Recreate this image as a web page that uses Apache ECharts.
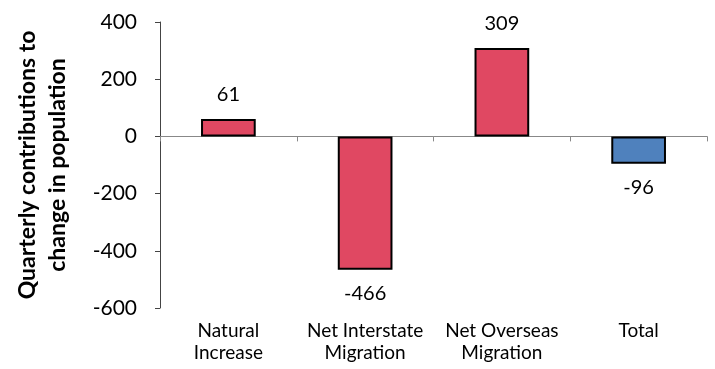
<!DOCTYPE html>
<html><head><meta charset="utf-8">
<script src="https://cdn.jsdelivr.net/npm/echarts@6/dist/echarts.min.js"></script>
<style>html,body{margin:0;padding:0;background:#fff}#c{width:715px;height:369px}</style>
</head><body><div id="c"></div>
<script>
const categories = ['Natural\nIncrease', 'Net Interstate\nMigration', 'Net Overseas\nMigration', 'Total'];
const values = [61, -466, 309, -96];
const barColors = ['#E04862', '#E04862', '#E04862', '#4F81BD'];
const yTitle = 'Quarterly contributions to\nchange in population';

const chart = echarts.init(document.getElementById('c'));
const font = 'Lato, "Open Sans", sans-serif';
chart.setOption({
  animation: false,
  grid: {left: 160, right: 8, top: 22, bottom: 61},
  xAxis: [
    {type: 'category', data: categories, position: 'bottom', axisLine: {show: false, onZero: false}, axisTick: {show: false},
     axisLabel: {fontFamily: font, fontSize: 19, color: '#000', margin: 12, lineHeight: 22, interval: 0}},
    {type: 'category', data: categories, position: 'bottom', axisLine: {show: true, onZero: true, lineStyle: {color: '#888', width: 1}},
     axisTick: {show: true, length: 5, lineStyle: {color: '#888'}}, axisLabel: {show: false}}
  ],
  yAxis: {type: 'value', min: -600, max: 400, interval: 200,
    axisLine: {show: true, lineStyle: {color: '#444'}}, axisTick: {show: true, length: 5, lineStyle: {color: '#444'}},
    splitLine: {show: false},
    axisLabel: {fontFamily: font, fontSize: 21, color: '#000', margin: 23},
    name: yTitle, nameLocation: 'middle', nameRotate: 90, nameGap: 87,
    nameTextStyle: {fontFamily: font, fontSize: 23, fontWeight: 'bold', color: '#000', lineHeight: 30}
  },
  series: [{
    type: 'bar', xAxisIndex: 0, barWidth: '40%',
    data: values.map((v, i) => ({value: v, itemStyle: {color: barColors[i]}, label: {position: v >= 0 ? 'top' : 'bottom'}})),
    itemStyle: {borderColor: '#000', borderWidth: 2},
    label: {show: true, fontFamily: font, fontSize: 20, color: '#000', distance: 14}
  }]
});
</script></body></html>
